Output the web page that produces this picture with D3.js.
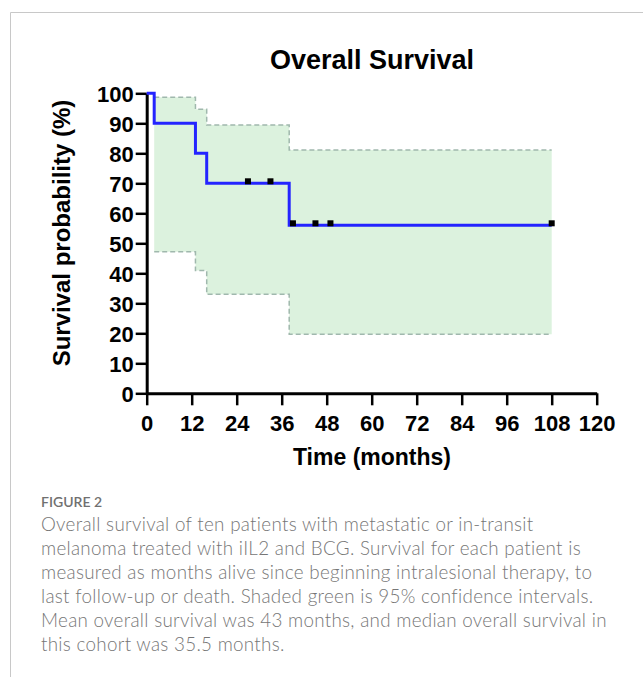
<!DOCTYPE html>
<html>
<head>
<meta charset="utf-8">
<script src="https://cdn.jsdelivr.net/npm/d3@7"></script>
<style>
  html, body { margin: 0; padding: 0; background: #fff; }
  svg { display: block; }
</style>
</head>
<body>
<div id="chart"></div>
<script>
// Kaplan-Meier curve
const survTimes = [0, 2, 13, 16, 38, 108];
const survValues = [100, 90, 80, 70, 56, 56];
const censorTimes = [27, 33, 39, 45, 49, 108];
const censorValues = [70, 70, 56, 56, 56, 56];
// 95% confidence band (steps start at first event)
const ciTimes = [2, 13, 16, 38, 108];
const ciUpper = [98.7, 94.7, 89.4, 81.1, 81.1];
const ciLower = [47.2, 40.9, 33.0, 19.7, 19.7];
const xTicks = [0, 12, 24, 36, 48, 60, 72, 84, 96, 108, 120];
const yTicks = [0, 10, 20, 30, 40, 50, 60, 70, 80, 90, 100];

const captionTitle = 'FIGURE 2';
const captionLines = [
  'Overall survival of ten patients with metastatic or in-transit',
  'melanoma treated with iIL2 and BCG. Survival for each patient is',
  'measured as months alive since beginning intralesional therapy, to',
  'last follow-up or death. Shaded green is 95% confidence intervals.',
  'Mean overall survival was 43 months, and median overall survival in',
  'this cohort was 35.5 months.'
];

const W = 643, H = 677;
const svg = d3.select('#chart').append('svg')
  .attr('width', W).attr('height', H);

// card frame
svg.append('path')
  .attr('d', `M10.5,${H} V12.5 H${W}`)
  .attr('fill', 'none')
  .attr('stroke', '#c8c8c8')
  .attr('stroke-width', 1);

const x = d3.scaleLinear().domain([0, 120]).range([146.7, 596.7]);
const y = d3.scaleLinear().domain([0, 100]).range([393.3, 93.3]);

const font = '"Liberation Sans", Arial, Helvetica, sans-serif';

// confidence band
const band = ciTimes.map((t, i) => ({ t, lo: ciLower[i], hi: ciUpper[i] }));
svg.append('path')
  .datum(band)
  .attr('fill', '#dcf2de')
  .attr('d', d3.area().curve(d3.curveStepAfter)
    .x(d => x(d.t)).y0(d => y(d.lo)).y1(d => y(d.hi)));

const dashLine = key => d3.line().curve(d3.curveStepAfter)
  .x(d => x(d.t)).y(d => y(d[key]));
['hi', 'lo'].forEach(k => {
  svg.append('path')
    .datum(band)
    .attr('fill', 'none')
    .attr('stroke', '#a0b8ad')
    .attr('stroke-width', 1.5)
    .attr('stroke-dasharray', '5,3')
    .attr('d', dashLine(k));
});

// axes
const yAxis = svg.append('g')
  .attr('transform', `translate(${x(0)},0)`)
  .call(d3.axisLeft(y).tickValues(yTicks).tickSize(11).tickSizeOuter(0).tickPadding(2));
const xAxis = svg.append('g')
  .attr('transform', `translate(0,${y(0)})`)
  .call(d3.axisBottom(x).tickValues(xTicks).tickSize(12).tickSizeOuter(0).tickPadding(10));

[yAxis, xAxis].forEach(g => {
  g.select('.domain').attr('stroke', '#000').attr('stroke-width', 3);
  g.selectAll('.tick line').attr('stroke', '#000').attr('stroke-width', 2.5);
  g.selectAll('.tick text')
    .attr('fill', '#000')
    .style('font-family', font)
    .style('font-weight', 'bold')
    .style('font-size', '22px');
});
yAxis.selectAll('.tick text').attr('dy', '0.36em');

// survival curve
const pts = survTimes.map((t, i) => ({ t, s: survValues[i] }));
svg.append('path')
  .datum(pts)
  .attr('fill', 'none')
  .attr('stroke', '#2424ff')
  .attr('stroke-width', 3)
  .attr('d', d3.line().curve(d3.curveStepAfter).x(d => x(d.t)).y(d => y(d.s)));

// censored marks
svg.append('g')
  .selectAll('rect')
  .data(censorTimes.map((t, i) => ({ t, s: censorValues[i] })))
  .join('rect')
  .attr('x', d => x(d.t) - 3)
  .attr('y', d => y(d.s) - 5)
  .attr('width', 6)
  .attr('height', 6)
  .attr('fill', '#000');

// titles
svg.append('text')
  .attr('x', 372).attr('y', 68.5)
  .attr('text-anchor', 'middle')
  .style('font-family', font).style('font-weight', 'bold').style('font-size', '27px')
  .text('Overall Survival');

svg.append('text')
  .attr('x', 372).attr('y', 465)
  .attr('text-anchor', 'middle')
  .style('font-family', font).style('font-weight', 'bold').style('font-size', '23px')
  .text('Time (months)');

svg.append('text')
  .attr('transform', 'translate(70,233) rotate(-90)')
  .attr('text-anchor', 'middle')
  .style('font-family', font).style('font-weight', 'bold').style('font-size', '24px')
  .text('Survival probability (%)');

// caption
svg.append('text')
  .attr('x', 41).attr('y', 507)
  .attr('fill', '#707070')
  .style('font-family', 'Lato, "Open Sans", sans-serif')
  .style('font-weight', 600)
  .style('font-size', '14px')
  .text(captionTitle);

const cap = svg.append('g')
  .attr('fill', '#767676')
  .style('font-family', 'Lato, "Open Sans", sans-serif')
  .style('font-weight', 300)
  .style('letter-spacing', '0.3px')
  .style('font-size', '18px');
const capLines = cap.selectAll('text')
  .data(captionLines)
  .join('text')
  .attr('x', 41)
  .attr('y', (d, i) => 531 + i * 24)
  .text(d => d);

// fit caption size to the first line's width in the figure
const w0 = capLines.node().getComputedTextLength();
cap.style('font-size', (18 * 494 / w0).toFixed(2) + 'px');
</script>
</body>
</html>
